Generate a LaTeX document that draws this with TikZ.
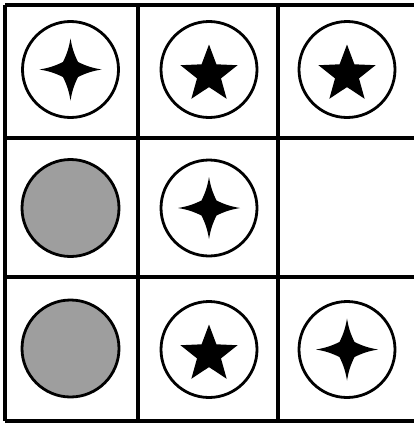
\documentclass[tikz,border=0pt]{standalone}
\usetikzlibrary{calc}
\tikzset{
  gridline/.style={line width=3.4pt, black},
  ring/.style={line width=2.8pt, black, fill=white},
  graydisc/.style={line width=2.8pt, black, fill=black!38},
  shapefill/.style={fill=black, draw=none},
}
\newcommand{\fourstar}[1]{%
  \fill[shapefill] ($(#1)+(0,-31)$) to[bend right=8] ($(#1)+(7.5,-7.5)$) to[bend right=8] ($(#1)+(31,0)$) to[bend right=8] ($(#1)+(7.5,7.5)$) to[bend right=8]
    ($(#1)+(0,31)$) to[bend right=8] ($(#1)+(-7.5,7.5)$) to[bend right=8] ($(#1)+(-31,0)$) to[bend right=8] ($(#1)+(-7.5,-7.5)$) to[bend right=8] cycle;}
\newcommand{\fivestar}[1]{%
  \fill[shapefill] ($(#1)+(90:-30)$)
    \foreach \k in {1,...,9}{ -- ($(#1)+({90+36*\k}:{-30+17.4*mod(\k,2)})$) } -- cycle;}
\begin{document}
\begin{tikzpicture}[x=1pt,y=-1pt]
\useasboundingbox (0,0) rectangle (413,423);
\fill[white] (0,0) rectangle (413,423);
% grid
\draw[gridline] (5,5) -- (416,5);
\draw[gridline] (5,138) -- (416,138);
\draw[gridline] (5,277) -- (416,277);
\draw[gridline] (5,421) -- (416,421);
\draw[gridline] (5,5) -- (5,421);
\draw[gridline] (138,5) -- (138,421);
\draw[gridline] (278,5) -- (278,421);
% cell centres
\coordinate (c11) at (70.5,69.5);
\coordinate (c12) at (209,69.5);
\coordinate (c13) at (347,69.5);
\coordinate (c21) at (70.5,208);
\coordinate (c22) at (209,208);
\coordinate (c31) at (70.5,348.5);
\coordinate (c32) at (209,349.5);
\coordinate (c33) at (347,349.5);
% row 1
\draw[ring] (c11) circle (48);
\fourstar{c11}
\draw[ring] (c12) circle (48);
\fivestar{$(c12)+(0,5)$}
\draw[ring] (c13) circle (48);
\fivestar{$(c13)+(0,5)$}
% row 2
\draw[graydisc] (c21) circle (48.5);
\draw[ring] (c22) circle (48);
\fourstar{c22}
% row 3
\draw[graydisc] (c31) circle (48.5);
\draw[ring] (c32) circle (48);
\fivestar{$(c32)+(0,5)$}
\draw[ring] (c33) circle (48);
\fourstar{c33}
\end{tikzpicture}
\end{document}
